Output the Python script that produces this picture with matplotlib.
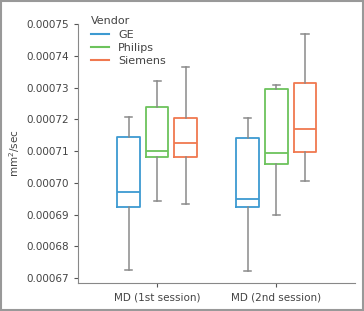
import numpy as np
import matplotlib.pyplot as plt
from matplotlib.lines import Line2D
from matplotlib.patches import Rectangle

groups = ["MD (1st session)", "MD (2nd session)"]
vendors = ["GE", "Philips", "Siemens"]
colors = ["#3d9ad1", "#6cc35c", "#f0784f"]

# per vendor, per group: whislo, q1, med, q3, whishi
ge_stats = [[0.0006727, 0.0006923, 0.0006972, 0.0007144, 0.0007207],
            [0.0006722, 0.0006923, 0.0006949, 0.0007140, 0.0007205]]
philips_stats = [[0.0006942, 0.0007082, 0.0007101, 0.0007240, 0.0007320],
                 [0.0006898, 0.0007058, 0.0007095, 0.0007294, 0.0007308]]
siemens_stats = [[0.0006933, 0.0007082, 0.0007124, 0.0007203, 0.0007366],
                 [0.0007006, 0.0007096, 0.0007169, 0.0007315, 0.0007469]]
all_stats = [ge_stats, philips_stats, siemens_stats]

fig = plt.figure(figsize=(3.64, 3.11), dpi=100)
ax = fig.add_axes([78/364, 28/311, 277/364, 259/311])

offsets = [-0.24, 0, 0.24]
for v, (name, col) in enumerate(zip(vendors, colors)):
    stats = []
    for g in range(len(groups)):
        lo, q1, med, q3, hi = all_stats[v][g]
        stats.append(dict(whislo=lo, q1=q1, med=med, q3=q3, whishi=hi, fliers=[]))
    pos = [g + offsets[v] for g in range(len(groups))]
    ax.bxp(stats, positions=pos, widths=0.19, showfliers=False,
           boxprops=dict(color=col, linewidth=1.3),
           medianprops=dict(color=col, linewidth=1.3),
           whiskerprops=dict(color="#8a8a8a", linewidth=1.1),
           capprops=dict(color="#8a8a8a", linewidth=1.1),
           capwidths=0.06)

ax.set_xlim(-0.664, 1.66)
ax.set_ylim(0.0006685, 0.00075)
ax.set_xticks([0, 1])
ax.set_xticklabels(groups)
yt = np.arange(0.00067, 0.000751, 0.00001)
ax.set_yticks(yt)
ax.set_yticklabels(["%.5f" % t for t in yt])
ax.tick_params(labelsize=7.5, colors="#555555", length=3)
for lab in ax.get_xticklabels() + ax.get_yticklabels():
    lab.set_color("#444444")
ax.spines["top"].set_visible(False)
ax.spines["right"].set_visible(False)
ax.spines["left"].set_color("#888888")
ax.spines["bottom"].set_color("#888888")
ax.set_ylabel("mm$^2$/sec", fontsize=7.5, color="#444444", labelpad=3)

handles = [Line2D([], [], color=c, linewidth=1.5) for c in colors]
leg = ax.legend(handles, vendors, title="Vendor", loc="upper left",
                bbox_to_anchor=(0.02, 1.06), frameon=False, fontsize=8,
                title_fontsize=8, handlelength=1.6, labelspacing=0.3,
                borderpad=0.2)
leg._legend_box.align = "left"
for t in leg.get_texts():
    t.set_color("#444444")
leg.get_title().set_color("#444444")

fig.patches.append(Rectangle((0.003, 0.003), 0.994, 0.994, transform=fig.transFigure,
                             fill=False, edgecolor="#999999", linewidth=1.5))

fig.savefig("out.png", dpi=100)
